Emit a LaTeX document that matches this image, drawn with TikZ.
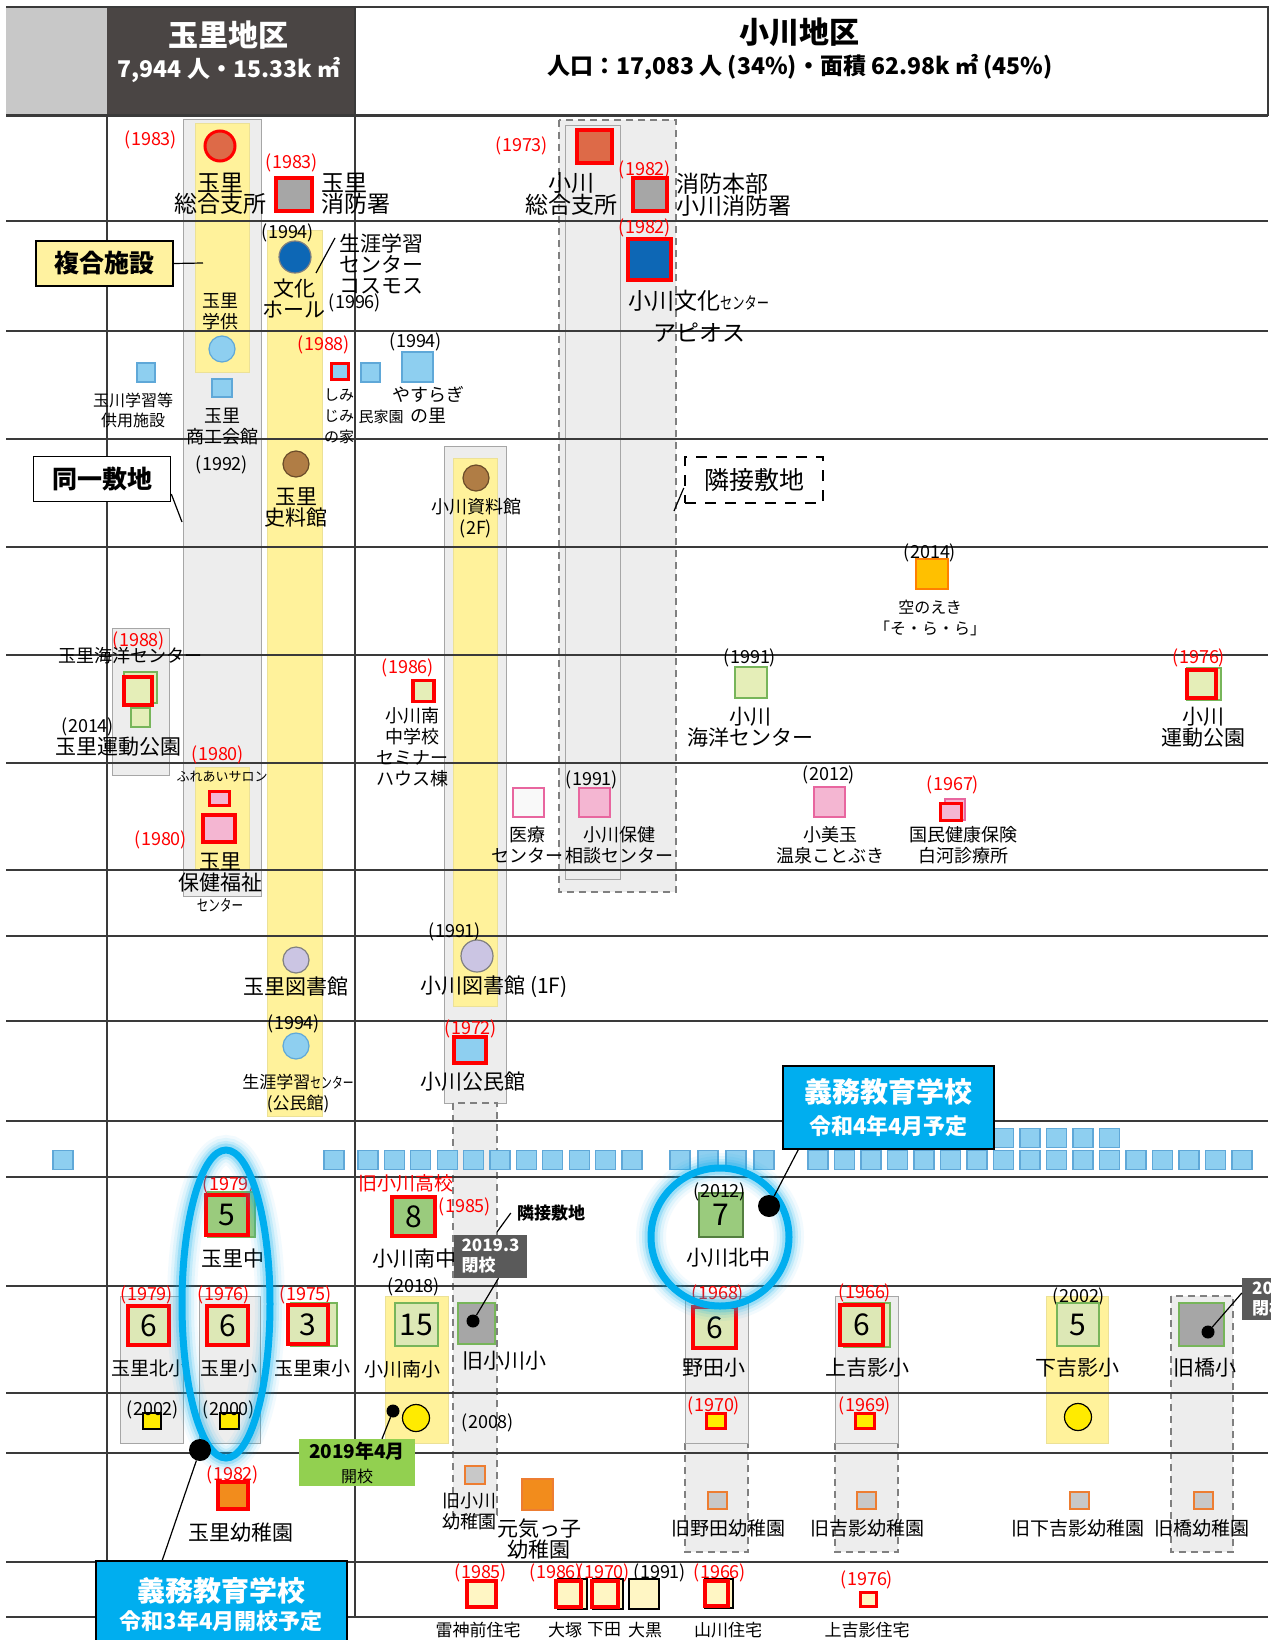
\documentclass[tikz,border=0pt]{standalone}
\usepackage{fontspec}
\setmainfont{Noto Sans CJK JP}
\usepackage{graphicx}
\usepackage{tikz}
\usetikzlibrary{calc, positioning, shapes.geometric}
\usepackage{xcolor}

\definecolor{hdrGray}{HTML}{C8C8C8}
\definecolor{hdrDark}{HTML}{4A4544}
\definecolor{gridLine}{HTML}{3A3A3A}
\definecolor{barGray}{HTML}{EDEDED}
\definecolor{barEdge}{HTML}{A6A6A6}
\definecolor{barYellow}{HTML}{FFF29B}
\definecolor{fireGray}{HTML}{A6A6A6}
\definecolor{officeRed}{HTML}{DD6A48}
\definecolor{cultureBlue}{HTML}{0D67B5}
\definecolor{learnBlue}{HTML}{8ECFF0}
\definecolor{learnEdge}{HTML}{5FA8D8}
\definecolor{historyBrown}{HTML}{B07D45}
\definecolor{libLilac}{HTML}{CBC5E3}
\definecolor{sportGreen}{HTML}{E5EEB8}
\definecolor{sportEdge}{HTML}{77B55A}
\definecolor{healthPink}{HTML}{F4B6D2}
\definecolor{healthEdge}{HTML}{E8669F}
\definecolor{juniorGreen}{HTML}{9ACB7D}
\definecolor{schoolGreen}{HTML}{DDE8B6}
\definecolor{nurseYellow}{HTML}{FFEB00}
\definecolor{kinderOrange}{HTML}{F28C1C}
\definecolor{kinderEdge}{HTML}{ED7D31}
\definecolor{oldGray}{HTML}{C8C8C8}
\definecolor{houseYellow}{HTML}{FFF6C4}
\definecolor{skyGold}{HTML}{FFC000}
\definecolor{calloutBlue}{HTML}{00AEEF}
\definecolor{closedGray}{HTML}{5A5A5A}
\definecolor{openGreen}{HTML}{92D050}
\definecolor{noteYellow}{HTML}{FFF2A0}

\tikzstyle{lbl} = [%
  inner sep=0pt,
  align=center,
  font=\fontsize{21}{21}\selectfont
]
\tikzstyle{blbl} = [lbl, font=\fontsize{23}{21}\selectfont]
\tikzstyle{mlbl} = [lbl, font=\fontsize{18}{21}\selectfont]
\tikzstyle{slbl} = [lbl, font=\fontsize{16}{20}\selectfont]
\tikzstyle{yr} = [inner sep=0pt, font=\fontsize{18}{18}\selectfont]
\tikzstyle{ryr} = [yr, text=red]
\tikzstyle{fac} = [rectangle, inner sep=0pt, line width=1.2pt]
\tikzstyle{redframe} = [draw=red, line width=4.5pt]
\tikzstyle{thinred} = [draw=red, line width=3.5pt]
\tikzstyle{num} = [font=\fontsize{30}{30}\selectfont]
\tikzstyle{ball} = [circle, inner sep=0pt, line width=1.2pt]
\tikzstyle{dot} = [circle, fill=black, inner sep=0pt]
\tikzstyle{lead} = [draw=black, line width=1.2pt]

\newcommand{\cndns}[2][15]{{\fontsize{#1}{#1}\selectfont\scalebox{0.72}[1]{#2}}}

\begin{document}
\begin{tikzpicture}[%
  x=1pt, y=-1pt,
  grid/.style={draw=gridLine, line width=1.8pt},
  bar/.style={fill=barGray, draw=barEdge, line width=1pt},
  ybar/.style={fill=barYellow, draw=barYellow!85!gray, line width=0.8pt},
  dbar/.style={fill=barGray, draw=gray, line width=1.2pt, dash pattern=on 7pt off 5pt},
  note/.style={draw=black, line width=1.6pt, minimum width=137, minimum height=45,
    font=\fontsize{25}{25}\selectfont\bfseries},
  callout/.style={fill=calloutBlue, draw=black, line width=1.5pt, text=white, align=center},
  closed/.style={fill=closedGray, text=white, align=left, inner sep=0pt,
    font=\fontsize{17}{20}\selectfont\bfseries}
]
  \useasboundingbox (0,0) rectangle (1270,1640);
  \fill[white] (0,0) rectangle (1270,1640);

  % Header
  \fill[hdrGray] (6,7) rectangle (107,116);
  \fill[hdrDark] (107,7) rectangle (355,116);
  \draw[gridLine, line width=1.5pt] (6,7) -- (1268,7) -- (1268,116);
  \draw[gridLine, line width=1.5pt] (355,7) -- (355,116);
  \node[text=white, font=\fontsize{30}{30}\selectfont\bfseries] (tamaHead) at (228,35) {玉里地区};
  \node[text=white, font=\fontsize{23}{23}\selectfont\bfseries] (tamaStat) at (229,70) {7,944 人・15.33k ㎡};
  \node[font=\fontsize{30}{30}\selectfont\bfseries] (ogaHead) at (799,32) {小川地区};
  \node[font=\fontsize{23}{23}\selectfont\bfseries] (ogaStat) at (800,67) {人口：17,083 人 (34\%)・面積 62.98k ㎡ (45\%)};

  % Column bars
  \draw[bar] (183,120) rectangle (261,896);
  \draw[ybar] (195,123) rectangle (249,372);
  \draw[ybar] (195,767) rectangle (249,870);
  \draw[ybar] (267,230) rectangle (322,1116);
  \draw[bar] (112,628) rectangle (169,775);
  \draw[bar] (444,446) rectangle (506,1103);
  \draw[ybar] (453,458) rectangle (497,1006);
  \draw[dbar] (453,1103) rectangle (497,1515);
  \draw[dbar] (559,120) rectangle (676,892);
  \draw[bar] (565,126) rectangle (620,879);
  \draw[bar] (120,1296) rectangle (183,1443);
  \draw[bar] (199,1296) rectangle (260,1443);
  \draw[ybar] (385,1296) rectangle (448,1443);
  \draw[dbar] (685,1443) rectangle (748,1552);
  \draw[bar] (685,1296) rectangle (748,1443);
  \draw[dbar] (835,1443) rectangle (898,1552);
  \draw[bar] (835,1296) rectangle (898,1443);
  \draw[ybar] (1046,1296) rectangle (1108,1443);
  \draw[dbar] (1171,1296) rectangle (1233,1552);

  % Grid
  \foreach \y in {221,331,439,547,655,763,870,936,1021,1121,1177,1286,1393,1453,1562,1617}
    \draw[grid] (6,\y) -- (1268,\y);
  \draw[grid, line width=3pt] (6,116) -- (1268,116);
  \draw[grid] (107,116) -- (107,1617);
  \draw[grid] (355,116) -- (355,1617);

  % Offices and fire stations
  \node[ryr] (y01) at (151,140) {(1983)};
  \node[ball, fill=officeRed, draw=red, line width=3pt, minimum size=30] (tamaOffice) at (220,146) {};
  \node[blbl] (tamaOfficeL) at (220,194) {玉里\\総合支所};
  \node[ryr] (y02) at (292,163) {(1983)};
  \node[fac, fill=fireGray, redframe, minimum width=36, minimum height=33] (tamaFire) at (294,194.5) {};
  \node[blbl, anchor=west, align=left] (tamaFireL) at (321,194) {玉里\\消防署};
  \node[ryr] (y03) at (522,146) {(1973)};
  \node[fac, fill=officeRed, redframe, minimum width=35, minimum height=33] (ogaOffice) at (594.5,146.5) {};
  \node[blbl] (ogaOfficeL) at (571,194) {小川\\総合支所};
  \node[ryr] (y04) at (645,170) {(1982)};
  \node[fac, fill=fireGray, redframe, minimum width=34, minimum height=33] (ogaFire) at (650,194.5) {};
  \node[blbl, anchor=west, align=left] (ogaFireL) at (676,195) {消防本部\\小川消防署};

  % Culture halls
  \node[note, fill=noteYellow] (fukugo) at (104.5,263.5) {複合施設};
  \coordinate (fukugoEnd) at (203,263);
  \draw[lead] (fukugo.east) -- (fukugoEnd);
  \node[yr] (y05) at (288,233) {(1994)};
  \node[ball, fill=cultureBlue, draw=gray, minimum size=32] (tamaHall) at (295,257) {};
  \node[lbl] (tamaHallL) at (294,298) {文化\\ホール};
  \node[yr] (y06) at (355,303) {(1996)};
  \node[lbl, anchor=west, align=left] (cosmosL) at (339,264) {生涯学習\\センター\\コスモス};
  \coordinate (cosmosA) at (316,273);
  \coordinate (cosmosB) at (335,238);
  \draw[lead] (cosmosA) -- (cosmosB);
  \node[mlbl] (gakkyoL) at (220,312) {玉里\\学供};
  \node[ryr] (y07) at (645,228) {(1982)};
  \node[fac, fill=cultureBlue, redframe, minimum width=43, minimum height=41] (ogaCulture) at (649.5,259.5) {};
  \node[blbl, anchor=west] (ogaCultureL) at (628,301) {小川文化\cndns[17]{センター}};
  \node[blbl] (apiosL) at (699,333) {アピオス};

  % Learning facilities
  \node[ball, fill=learnBlue, draw=learnEdge, minimum size=26] (gakkyo) at (222,349) {};
  \node[fac, fill=learnBlue, draw=learnEdge, minimum width=18, minimum height=19] (tamagawa) at (146,372.5) {};
  \node[slbl] (tamagawaL) at (133,410) {玉川学習等\\供用施設};
  \node[fac, fill=learnBlue, draw=learnEdge, minimum width=20, minimum height=18] (shoko) at (222,388) {};
  \node[mlbl] (shokoL) at (222,427) {玉里\\商工会館};
  \node[yr] (y08) at (222,465) {(1992)};
  \node[ryr] (y09) at (324,345) {(1988)};
  \node[fac, fill=learnBlue, thinred, minimum width=17, minimum height=16] (shimijimi) at (340,371.5) {};
  \node[lbl, font=\fontsize{15}{21}\selectfont] (shimijimiL) at (339,416) {しみ\\じみ\\の家};
  \node[fac, fill=learnBlue, draw=learnEdge, minimum width=19, minimum height=19] (minka) at (370.5,372.5) {};
  \node[lbl, font=\fontsize{15}{15}\selectfont] (minkaL) at (381,417) {民家園};
  \node[yr] (y10) at (416,342) {(1994)};
  \node[fac, fill=learnBlue, draw=learnEdge, minimum width=31, minimum height=30] (yasuragi) at (417.5,367) {};
  \node[mlbl] (yasuragiL) at (428,405) {やすらぎ\\の里};

  % History halls
  \node[note, fill=white] (doitsu) at (102,479) {同一敷地};
  \coordinate (doitsuEnd) at (182,522);
  \draw[lead] ([yshift=-15pt]doitsu.east) -- (doitsuEnd);
  \node[ball, fill=historyBrown, draw=historyBrown!60!black, minimum size=26] (tamaHist) at (296,464) {};
  \node[lbl] (tamaHistL) at (296,507) {玉里\\史料館};
  \node[ball, fill=historyBrown, draw=historyBrown!60!black, minimum size=26] (ogaHist) at (476,478) {};
  \node[mlbl] (ogaHistL) at (476,518) {小川資料館\\(2F)};
  \node[draw=black, line width=2.5pt, dash pattern=on 11pt off 9pt, minimum width=138, minimum height=46,
    font=\fontsize{25}{25}\selectfont] (rinsetsuA) at (754,480) {隣接敷地};
  \coordinate (rinAEnd) at (674,511);
  \draw[lead] ([yshift=-8pt]rinsetsuA.west) -- (rinAEnd);

  % Sky station
  \node[yr] (y11) at (930,553) {(2014)};
  \node[fac, fill=skyGold, draw=orange, minimum width=32, minimum height=30] (sora) at (932,574) {};
  \node[slbl, font=\fontsize{16}{21}\selectfont] (soraL) at (930,618) {空のえき\\「そ・ら・ら」};

  % Sports
  \node[ryr] (y12) at (139,641) {(1988)};
  \node[mlbl] (tamaMarineL) at (130,656) {玉里海洋センター};
  \node[fac, fill=sportGreen, draw=sportEdge, minimum width=33, minimum height=31] (tamaMarineG) at (140.5,687.5) {};
  \node[fac, fill=sportGreen, redframe, minimum width=28, minimum height=28] (tamaMarine) at (138,691) {};
  \node[fac, fill=sportGreen, draw=sportEdge, minimum width=19, minimum height=19] (tamaPark) at (140.5,717.5) {};
  \node[yr] (y13) at (88,727) {(2014)};
  \node[lbl] (tamaParkL) at (118,747) {玉里運動公園};
  \node[ryr] (y14) at (408,668) {(1986)};
  \node[fac, fill=sportGreen, draw=sportEdge, minimum width=19, minimum height=20] (seminarG) at (423.5,692) {};
  \node[fac, fill=sportGreen, thinred, minimum width=21, minimum height=21] (seminar) at (423.5,691) {};
  \node[mlbl] (seminarL) at (412,747) {小川南\\中学校\\セミナー\\ハウス棟};
  \node[yr] (y15) at (750,658) {(1991)};
  \node[fac, fill=sportGreen, draw=sportEdge, minimum width=32, minimum height=31] (ogaMarine) at (751,682.5) {};
  \node[lbl] (ogaMarineL) at (750,727) {小川\\海洋センター};
  \node[ryr] (y16) at (1199,658) {(1976)};
  \node[fac, fill=sportGreen, draw=sportEdge, minimum width=34, minimum height=32] (ogaParkG) at (1204,684) {};
  \node[fac, fill=sportGreen, redframe, minimum width=29, minimum height=28] (ogaPark) at (1201.5,684) {};
  \node[lbl] (ogaParkL) at (1203,727) {小川\\運動公園};

  % Health
  \node[ryr] (y17) at (218,755) {(1980)};
  \node[inner sep=0pt, font=\fontsize{13}{13}\selectfont] (salonL) at (222,777) {ふれあいサロン};
  \node[fac, fill=healthPink, thinred, minimum width=20, minimum height=14] (salon) at (219.5,798.5) {};
  \node[ryr] (y18) at (161,840) {(1980)};
  \node[fac, fill=healthPink, redframe, minimum width=32, minimum height=27] (tamaHealth) at (219,828.5) {};
  \node[lbl] (tamaHealthL) at (220,872) {玉里\\保健福祉};
  \node[inner sep=0pt] (tamaHealthC) at (220,905) {\cndns[16]{センター}};
  \node[fac, fill=white!95!gray, draw=healthEdge, minimum width=31, minimum height=29] (iryo) at (528.5,802.5) {};
  \node[mlbl] (iryoL) at (527,845) {医療\\センター};
  \node[yr] (y19) at (592,780) {(1991)};
  \node[fac, fill=healthPink, draw=healthEdge, minimum width=31, minimum height=29] (ogaHealth) at (594.5,802.5) {};
  \node[mlbl] (ogaHealthL) at (619,845) {小川保健\\相談センター};
  \node[yr] (y20) at (829,775) {(2012)};
  \node[fac, fill=healthPink, draw=healthEdge, minimum width=31, minimum height=30] (omitama) at (829.5,802) {};
  \node[mlbl] (omitamaL) at (830,845) {小美玉\\温泉ことぶき};
  \node[ryr] (y21) at (953,785) {(1967)};
  \node[fac, fill=healthPink, draw=healthEdge, minimum width=20, minimum height=21] (clinicP) at (955,809.5) {};
  \node[fac, fill=healthPink, thinred, minimum width=21, minimum height=17] (clinic) at (951,812) {};
  \node[mlbl] (clinicL) at (963,845) {国民健康保険\\白河診療所};

  % Libraries
  \node[ball, fill=libLilac, draw=gray, minimum size=26] (tamaLib) at (296,960) {};
  \node[lbl] (tamaLibL) at (296,987) {玉里図書館};
  \node[yr] (y22) at (455,932) {(1991)};
  \node[ball, fill=libLilac, draw=gray, minimum size=32] (ogaLib) at (477,956) {};
  \node[lbl] (ogaLibL) at (494,987) {小川図書館 (1F)};

  % Community halls
  \node[yr] (y23) at (294,1024) {(1994)};
  \node[ball, fill=learnBlue, draw=learnEdge, minimum size=26] (tamaHall2) at (296,1046) {};
  \node[mlbl, font=\fontsize{17}{21}\selectfont] (tamaHall2L) at (298,1093) {生涯学習\cndns{センター}\\(公民館)};
  \node[ryr] (y24) at (471,1029) {(1972)};
  \node[fac, fill=learnBlue, redframe, minimum width=32, minimum height=26] (ogaKomin) at (470,1050) {};
  \node[lbl] (ogaKominL) at (473,1082) {小川公民館};

  % Meeting rooms
  \foreach \x [count=\i] in {53,324}
    \node[fac, fill=learnBlue, draw=learnEdge, minimum width=20, minimum height=19] (cl\i) at ({\x+10},1160) {};
  \foreach \k in {0,...,10}
    \node[fac, fill=learnBlue, draw=learnEdge, minimum width=20, minimum height=19] (cm\k) at ({368+26.4*\k},1160) {};
  \foreach \k in {0,...,3}
    \node[fac, fill=learnBlue, draw=learnEdge, minimum width=20, minimum height=19] (cn\k) at ({680+28*\k},1160) {};
  \foreach \k in {0,...,16}
    \node[fac, fill=learnBlue, draw=learnEdge, minimum width=20, minimum height=19] (cr\k) at ({818+26.5*\k},1160) {};
  \foreach \k in {0,...,4}
    \node[fac, fill=learnBlue, draw=learnEdge, minimum width=20, minimum height=19] (cu\k) at ({1003.5+26.5*\k},1138) {};

  % Junior high schools
  \node[ryr] (y25) at (229,1185) {(1979)};
  \node[fac, fill=juniorGreen, draw=sportEdge, minimum width=47, minimum height=45] (tamaChuG) at (231.5,1214.5) {};
  \node[fac, fill=juniorGreen, redframe, num, minimum width=42, minimum height=40] (tamaChu) at (227,1215) {5};
  \node[lbl] (tamaChuL) at (233,1258) {玉里中};
  \node[ryr, font=\fontsize{19}{19}\selectfont] (oldHigh) at (406,1183) {旧小川高校};
  \node[ryr] (y26) at (465,1207) {(1985)};
  \node[fac, fill=juniorGreen, redframe, num, minimum width=43, minimum height=39] (ogaMinamiChu) at (413.5,1216.5) {8};
  \node[lbl] (ogaMinamiChuL) at (414,1259) {小川南中};
  \node[fac, fill=juniorGreen, draw=sportEdge!70!black, num, minimum width=44, minimum height=44] (ogaKitaChu) at (721,1215) {7};
  \node[yr] (y27) at (720,1192) {(2012)};
  \node[lbl] (ogaKitaChuL) at (728,1258) {小川北中};

  % Elementary schools
  \node[ryr] (y28) at (147,1295) {(1979)};
  \node[fac, fill=schoolGreen, redframe, num, minimum width=41, minimum height=39] (tamaKita) at (148.5,1325.5) {6};
  \node[lbl, font=\fontsize{19}{19}\selectfont] (tamaKitaL) at (149,1368) {玉里北小};
  \node[ryr] (y29) at (224,1295) {(1976)};
  \node[fac, fill=schoolGreen, redframe, num, minimum width=41, minimum height=39] (tamaSho) at (227.5,1325.5) {6};
  \node[lbl, font=\fontsize{19}{19}\selectfont] (tamaShoL) at (229,1368) {玉里小};
  \node[ryr] (y30) at (306,1295) {(1975)};
  \node[fac, fill=schoolGreen, draw=sportEdge, minimum width=46, minimum height=43] (tamaHigashiG) at (314,1324.5) {};
  \node[fac, fill=schoolGreen, redframe, num, minimum width=40, minimum height=39] (tamaHigashi) at (308,1324.5) {3};
  \node[lbl, font=\fontsize{19}{19}\selectfont] (tamaHigashiL) at (312,1368) {玉里東小};
  \node[yr] (y31) at (414,1287) {(2018)};
  \node[fac, fill=schoolGreen, draw=sportEdge, num, minimum width=43, minimum height=43] (ogaMinamiSho) at (416.5,1324.5) {15};
  \node[lbl, font=\fontsize{19}{19}\selectfont] (ogaMinamiShoL) at (402,1369) {小川南小};
  \node[fac, fill=fireGray, draw=sportEdge, minimum width=37, minimum height=41] (oldOgawa) at (476.5,1323.5) {};
  \node[lbl] (oldOgawaL) at (504,1361) {旧小川小};
  \node[ryr] (y32) at (718,1294) {(1968)};
  \node[fac, fill=schoolGreen, redframe, num, minimum width=43, minimum height=41] (noda) at (714.5,1327.5) {6};
  \node[lbl] (nodaL) at (714,1368) {野田小};
  \node[ryr] (y33) at (865,1293) {(1966)};
  \node[fac, fill=schoolGreen, draw=sportEdge, minimum width=46, minimum height=44] (kamiyoshiG) at (867,1325) {};
  \node[fac, fill=schoolGreen, redframe, num, minimum width=43, minimum height=40] (kamiyoshi) at (861.5,1325) {6};
  \node[lbl] (kamiyoshiL) at (867,1368) {上吉影小};
  \node[yr] (y34) at (1079,1297) {(2002)};
  \node[fac, fill=schoolGreen, draw=sportEdge, num, minimum width=42, minimum height=43] (shimoyoshi) at (1078,1324.5) {5};
  \node[lbl] (shimoyoshiL) at (1077,1368) {下吉影小};
  \node[fac, fill=fireGray, draw=sportEdge, minimum width=45, minimum height=43] (oldTachibana) at (1201.5,1324.5) {};
  \node[lbl] (oldTachibanaL) at (1205,1368) {旧橋小};

  % Nurseries
  \node[fac, fill=nurseYellow, draw=black, minimum width=18, minimum height=16] (tamaKitaNur) at (152,1421) {};
  \node[yr] (y35) at (153,1410) {(2002)};
  \node[fac, fill=nurseYellow, draw=black, minimum width=19, minimum height=16] (tamaShoNur) at (229.5,1421) {};
  \node[yr] (y36) at (229,1410) {(2000)};
  \node[ball, fill=nurseYellow, draw=black, minimum size=27] (ogaMinamiNur) at (416,1418) {};
  \node[yr] (y37) at (488,1423) {(2008)};
  \node[ryr] (y38) at (714,1406) {(1970)};
  \node[fac, fill=nurseYellow, thinred, minimum width=19, minimum height=15] (nodaNur) at (716,1421) {};
  \node[ryr] (y39) at (865,1406) {(1969)};
  \node[fac, fill=nurseYellow, thinred, minimum width=19, minimum height=15] (kamiyoshiNur) at (865,1421) {};
  \node[ball, fill=nurseYellow, draw=black, minimum size=27] (shimoyoshiNur) at (1078,1417) {};

  % Kindergartens
  \node[ryr] (y40) at (233,1475) {(1982)};
  \node[fac, fill=kinderOrange, redframe, minimum width=30, minimum height=27] (tamaKinder) at (233,1495.5) {};
  \node[lbl] (tamaKinderL) at (241,1533) {玉里幼稚園};
  \node[fac, fill=oldGray, draw=kinderEdge, minimum width=20, minimum height=18] (oldOgawaKin) at (475,1475) {};
  \node[mlbl] (oldOgawaKinL) at (469,1511) {旧小川\\幼稚園};
  \node[fac, fill=kinderOrange, draw=kinderEdge, minimum width=31, minimum height=31] (genki) at (537.5,1494.5) {};
  \node[lbl] (genkiL) at (539,1539) {元気っ子\\幼稚園};
  \node[fac, fill=oldGray, draw=kinderEdge, minimum width=19, minimum height=17] (oldNodaKin) at (717.5,1500.5) {};
  \node[fac, fill=oldGray, draw=kinderEdge, minimum width=19, minimum height=17] (oldYoshiKin) at (866.5,1500.5) {};
  \node[fac, fill=oldGray, draw=kinderEdge, minimum width=19, minimum height=17] (oldShimoKin) at (1079.5,1500.5) {};
  \node[fac, fill=oldGray, draw=kinderEdge, minimum width=19, minimum height=17] (oldTachiKin) at (1203.5,1500.5) {};
  \node[lbl, font=\fontsize{19}{19}\selectfont] (oldNodaKinL) at (728,1528) {旧野田幼稚園};
  \node[lbl, font=\fontsize{19}{19}\selectfont] (oldYoshiKinL) at (867,1528) {旧吉影幼稚園};
  \node[lbl, font=\fontsize{19}{19}\selectfont] (oldShimoKinL) at (1078,1528) {旧下吉影幼稚園};
  \node[lbl, font=\fontsize{19}{19}\selectfont] (oldTachiKinL) at (1202,1528) {旧橋幼稚園};

  % Public housing
  \node[ryr] (y41) at (481,1573) {(1985)};
  \node[fac, fill=houseYellow, redframe, minimum width=29, minimum height=26] (raijin) at (481.5,1594) {};
  \node[ryr] (y42) at (556,1573) {(1986)};
  \node[fac, fill=houseYellow, draw=black, minimum width=29, minimum height=30] (otsukaS) at (572.5,1594) {};
  \node[fac, fill=houseYellow, redframe, minimum width=25, minimum height=26] (otsuka) at (568.5,1594) {};
  \node[ryr] (y43) at (604,1573) {(1970)};
  \node[fac, fill=houseYellow, draw=black, minimum width=30, minimum height=30] (shimodaS) at (608,1594) {};
  \node[fac, fill=houseYellow, redframe, minimum width=26, minimum height=26] (shimoda) at (605,1594) {};
  \node[yr] (y44) at (660,1573) {(1991)};
  \node[fac, fill=houseYellow, draw=black, line width=1.5pt, minimum width=30, minimum height=30] (daikoku) at (644,1594) {};
  \node[ryr] (y45) at (720,1573) {(1966)};
  \node[fac, fill=houseYellow, draw=black, minimum width=28, minimum height=29] (yamakawaS) at (719,1593.5) {};
  \node[fac, fill=houseYellow, redframe, minimum width=23, minimum height=25] (yamakawa) at (716.5,1593.5) {};
  \node[ryr] (y46) at (867,1580) {(1976)};
  \node[fac, fill=houseYellow, thinred, minimum width=16, minimum height=14] (kamiyoshiHouse) at (868.5,1599.5) {};
  \node[inner sep=0pt, font=\fontsize{17}{17}\selectfont] (raijinL) at (478,1630) {雷神前住宅};
  \node[inner sep=0pt, font=\fontsize{17}{17}\selectfont] (otsukaL) at (565,1630) {大塚};
  \node[inner sep=0pt, font=\fontsize{17}{17}\selectfont] (shimodaL) at (604,1630) {下田};
  \node[inner sep=0pt, font=\fontsize{17}{17}\selectfont] (daikokuL) at (645,1630) {大黒};
  \node[inner sep=0pt, font=\fontsize{17}{17}\selectfont] (yamakawaL) at (728,1630) {山川住宅};
  \node[inner sep=0pt, font=\fontsize{17}{17}\selectfont] (kamiyoshiHouseL) at (867,1630) {上吉影住宅};

  % Glow rings
  \coordinate (gTama) at (226,1304);
  \coordinate (gKita) at (720,1237);
  \foreach \w/\o in {30/0.05, 24/0.08, 18/0.12, 13/0.2} {
    \draw[calloutBlue, line width=\w, opacity=\o] (gTama) ellipse [x radius=44, y radius=154];
    \draw[calloutBlue, line width=\w, opacity=\o] (gKita) circle [radius=69];
  }
  \draw[calloutBlue, line width=7pt] (gTama) ellipse [x radius=44, y radius=154];
  \draw[calloutBlue, line width=7pt] (gKita) circle [radius=69];

  % Callouts
  \node[callout, minimum width=211, minimum height=83, inner sep=0pt,
    font=\fontsize{22}{32}\selectfont\bfseries] (gimuKita) at (888.5,1107.5)
    {{\fontsize{28}{28}\selectfont 義務教育学校}\\令和4年4月予定};
  \node[dot, minimum size=22] (dKita) at (769,1206) {};
  \draw[lead] ([xshift=16pt]gimuKita.south west) -- (dKita);

  \node[callout, minimum width=251, minimum height=100] (gimuTama) at (221.5,1611) {};
  \node[text=white, align=center, inner sep=0pt, font=\fontsize{22}{28}\selectfont\bfseries] (gimuTamaT) at (221,1605)
    {{\fontsize{28}{28}\selectfont 義務教育学校}\\令和3年4月開校予定};
  \node[dot, minimum size=22] (dTama) at (200,1450) {};
  \draw[lead] (dTama) -- ([xshift=67pt]gimuTama.north west);

  \node[inner sep=0pt, font=\fontsize{17}{17}\selectfont\bfseries] (rinsetsuB) at (551,1213) {隣接敷地};
  \coordinate (rinBEnd) at (497,1232);
  \draw[lead] ([xshift=-6pt]rinsetsuB.west) -- (rinBEnd);
  \node[closed, minimum width=73, minimum height=43] (heikoA) at (490.5,1256.5) {2019.3\\閉校};
  \node[dot, minimum size=13] (dHeikoA) at (473,1321) {};
  \draw[lead] ([xshift=8pt]heikoA.south) -- (dHeikoA);

  \node[closed, minimum width=78, minimum height=42] (heikoB) at (1281,1299) {2019.3\\閉校};
  \node[dot, minimum size=13] (dHeikoB) at (1208,1332) {};
  \draw[lead] ([yshift=6pt]heikoB.west) -- (dHeikoB);

  \node[fill=openGreen, align=center, inner sep=0pt, minimum width=116, minimum height=47,
    font=\fontsize{16}{24}\selectfont] (kaiko) at (357,1462.5) {{\fontsize{19}{19}\selectfont\bfseries 2019年4月}\\開校};
  \node[dot, minimum size=13] (dKaiko) at (393,1411) {};
  \draw[lead] ([xshift=25pt]kaiko.north) -- (dKaiko);

\end{tikzpicture}
\end{document}
